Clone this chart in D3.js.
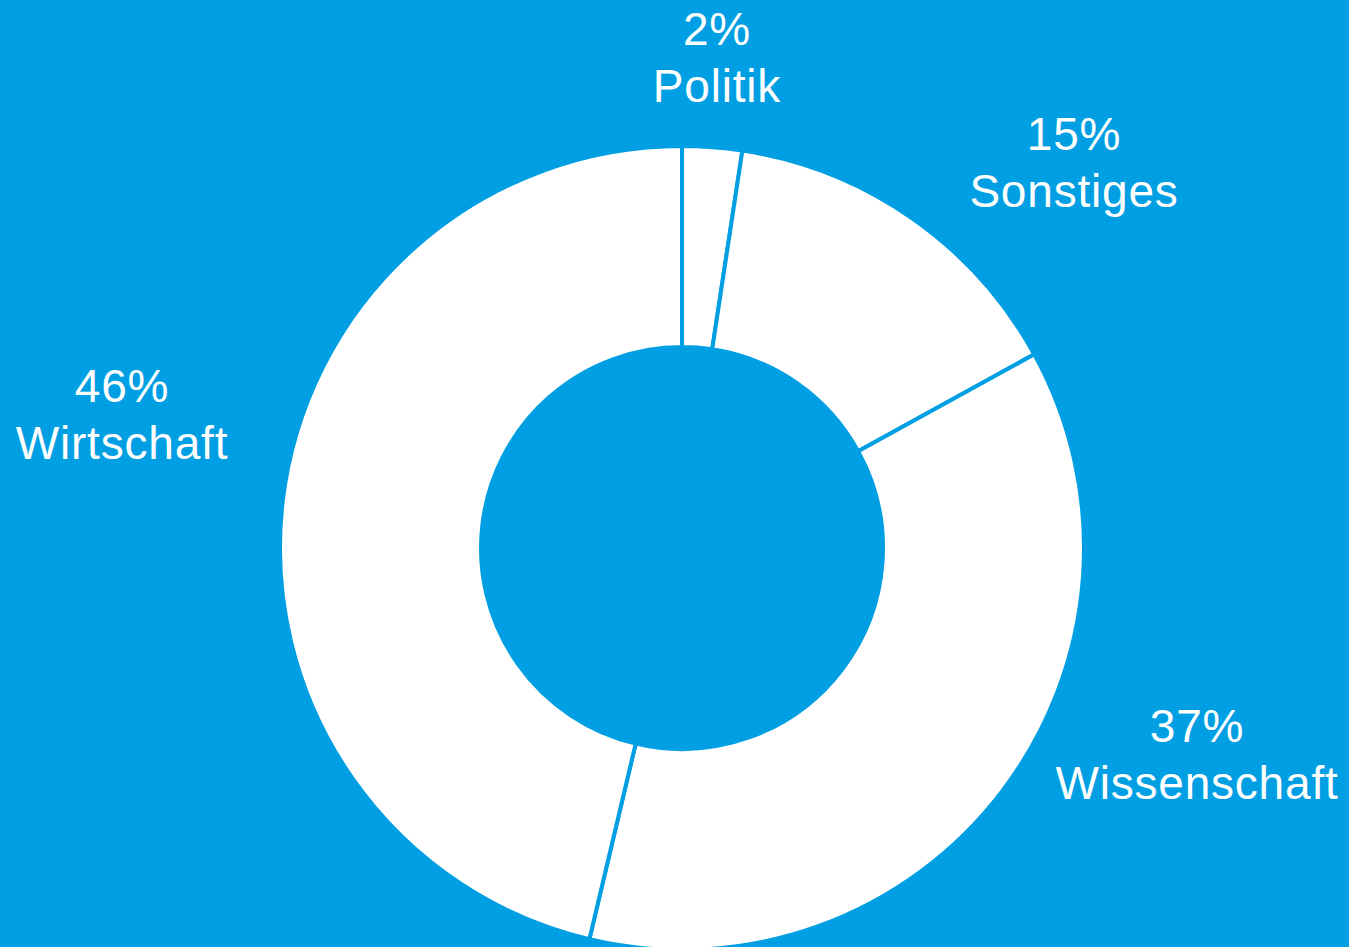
<!DOCTYPE html>
<html>
<head>
<meta charset="utf-8">
<script src="https://cdn.jsdelivr.net/npm/d3@7"></script>
<style>
  html, body { margin: 0; padding: 0; background: #009FE3; }
  svg { display: block; }
</style>
</head>
<body>
<div id="donut"></div>
<script>
const categories = ["Politik", "Sonstiges", "Wissenschaft", "Wirtschaft"];
const shares = [2.4, 14.6, 36.7, 46.3];
const shareLabels = ["2%", "15%", "37%", "46%"];

// label anchor per slice (centre x, first baseline y)
const labelPos = [[717, 45], [1074, 150], [1197, 742], [122, 402]];

const width = 1349;
const height = 947;
const cx = 682, cy = 548;
const outerR = 402, innerR = 201;
const bg = "#009FE3";

const svg = d3.select("#donut")
  .append("svg")
  .attr("width", width)
  .attr("height", height);

svg.append("rect")
  .attr("width", width)
  .attr("height", height)
  .attr("fill", bg);

const pie = d3.pie().sort(null).value(d => d);
const arc = d3.arc().innerRadius(innerR).outerRadius(outerR);

const g = svg.append("g")
  .attr("transform", `translate(${cx},${cy})`);

g.selectAll("path")
  .data(pie(shares))
  .join("path")
  .attr("d", arc)
  .attr("fill", "#ffffff")
  .attr("stroke", bg)
  .attr("stroke-width", 4)
  .attr("stroke-linejoin", "miter");

// labels
const labels = svg.selectAll("text.lbl")
  .data(categories)
  .join("text")
  .attr("class", "lbl")
  .attr("text-anchor", "middle")
  .attr("fill", "#ffffff")
  .style("font-family", "'Liberation Sans', Arial, sans-serif")
  .style("font-size", "46px")
  .style("letter-spacing", "0.8px");

labels.append("tspan")
  .attr("x", (d, i) => labelPos[i][0])
  .attr("y", (d, i) => labelPos[i][1])
  .text((d, i) => shareLabels[i]);

labels.append("tspan")
  .attr("x", (d, i) => labelPos[i][0])
  .attr("y", (d, i) => labelPos[i][1] + 57)
  .text(d => d);
</script>
</body>
</html>
